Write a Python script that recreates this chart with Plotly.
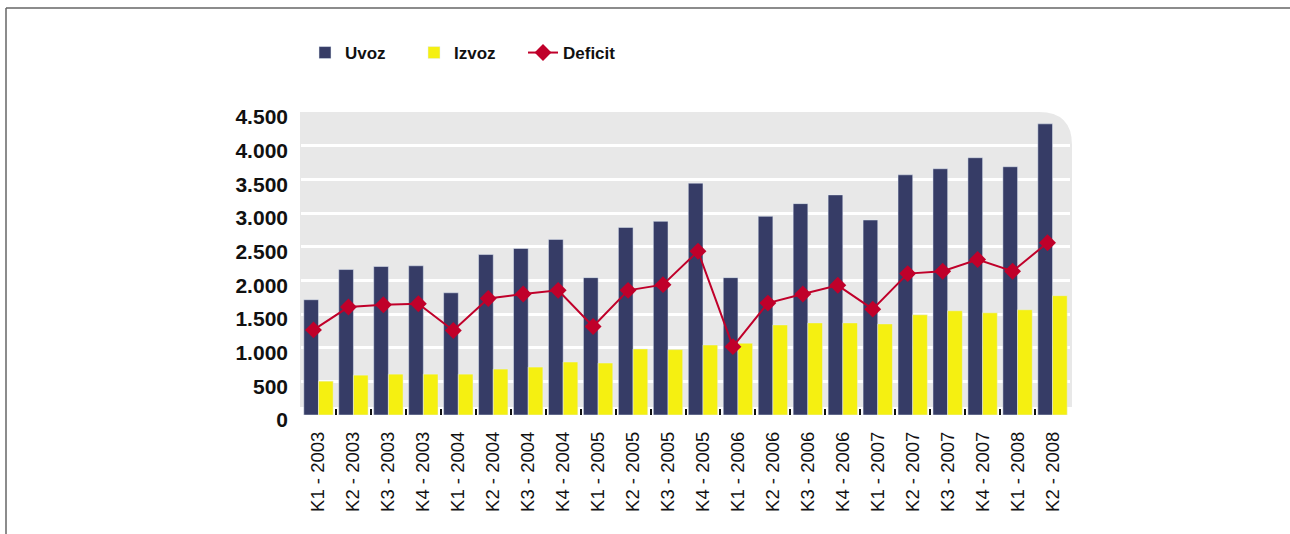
import plotly.graph_objects as go

categories = ["K1 - 2003", "K2 - 2003", "K3 - 2003", "K4 - 2003",
              "K1 - 2004", "K2 - 2004", "K3 - 2004", "K4 - 2004",
              "K1 - 2005", "K2 - 2005", "K3 - 2005", "K4 - 2005",
              "K1 - 2006", "K2 - 2006", "K3 - 2006", "K4 - 2006",
              "K1 - 2007", "K2 - 2007", "K3 - 2007", "K4 - 2007",
              "K1 - 2008", "K2 - 2008"]
uvoz = [1712, 2160, 2205, 2216, 1815, 2383, 2473, 2608, 2040, 2786, 2876, 3443,
        2040, 2950, 3139, 3269, 2896, 3567, 3657, 3821, 3687, 4324]
izvoz = [503, 592, 607, 607, 607, 682, 712, 787, 772, 981, 971, 1040,
         1067, 1338, 1368, 1368, 1353, 1488, 1548, 1518, 1563, 1772]
deficit = [1264, 1603, 1637, 1652, 1254, 1731, 1796, 1851, 1314, 1851, 1936, 2433,
           1015, 1662, 1796, 1926, 1572, 2100, 2135, 2309, 2135, 2558]
y_tickvals = [0, 500, 1000, 1500, 2000, 2500, 3000, 3500, 4000, 4500]
y_ticktext = ["0", "500", "1.000", "1.500", "2.000", "2.500", "3.000", "3.500", "4.000", "4.500"]

FONT = "Liberation Sans, Arial, sans-serif"

W, H = 1290, 534
L, R, T, B = 301, 1070, 112, 415
pw, ph = R - L, B - T
n = len(categories)
line_shift = 5 / (pw / n)  # deficit line sits slightly left of group centre

fig = go.Figure()
fig.add_trace(go.Bar(x=categories, y=uvoz, name="Uvoz", marker_color="#363c66"))
fig.add_trace(go.Bar(x=categories, y=izvoz, name="Izvoz", marker_color="#f5f011"))
fig.add_trace(go.Scatter(x=categories, y=deficit, name="Deficit", mode="lines+markers",
                         xaxis="x2",
                         line=dict(color="#c0002a", width=2),
                         marker=dict(symbol="diamond", size=13, color="#c0002a")))


def px(x):
    return (x - L) / pw


def py(y):
    return (B - y) / ph


rx, ry = 33 / pw, 33 / ph
gx0, gx1, gy0 = px(300), px(1072), py(407)
path = (f"M {gx0},{gy0} L {gx0},1 L {gx1-rx},1 Q {gx1},1 {gx1},{1-ry} L {gx1},{gy0} Z")

shapes = [
    dict(type="path", path=path, xref="paper", yref="paper", layer="below",
         fillcolor="#e8e8e8", line=dict(width=0)),
    dict(type="line", xref="paper", yref="paper", x0=px(6), x1=px(1295), y0=py(8), y1=py(8),
         line=dict(color="#666666", width=1.5)),
    dict(type="line", xref="paper", yref="paper", x0=px(6), x1=px(6), y0=py(8), y1=py(540),
         line=dict(color="#666666", width=1.5)),
]

fig.update_layout(
    width=W, height=H,
    margin=dict(l=L, r=W - R, t=T, b=H - B, pad=0),
    paper_bgcolor="white", plot_bgcolor="rgba(0,0,0,0)",
    barmode="group", bargap=0.16, bargroupgap=0,
    shapes=shapes,
    showlegend=True,
    legend=dict(orientation="h", x=px(305), y=py(53), xanchor="left", yanchor="middle",
                entrywidth=64, entrywidthmode="pixels",
                font=dict(family=FONT, size=17, color="#111111", weight="bold"),
                bgcolor="rgba(0,0,0,0)", traceorder="normal"),
    xaxis=dict(type="category", showgrid=False, zeroline=False, showline=False,
               ticks="inside", tickson="boundaries", ticklen=6, tickwidth=2, tickcolor="#111111",
               tickangle=-90, ticklabelstandoff=12,
               tickfont=dict(family=FONT, size=18.5, color="#111111")),
    xaxis2=dict(type="category", overlaying="x", range=[-0.5 + line_shift, n - 0.5 + line_shift],
                visible=False, showgrid=False),
    yaxis=dict(range=[0, 4500], tickvals=y_tickvals, ticktext=y_ticktext,
               showgrid=True, gridcolor="white", gridwidth=3, zeroline=False, showline=False,
               ticks="", ticklabelstandoff=12, ticklabelshift=5,
               tickfont=dict(family=FONT, size=21, color="#111111", weight="bold")),
)

fig.write_html("out.html", config={"displayModeBar": False},
               post_script="document.body.style.margin='0';document.body.style.overflow='hidden';")
